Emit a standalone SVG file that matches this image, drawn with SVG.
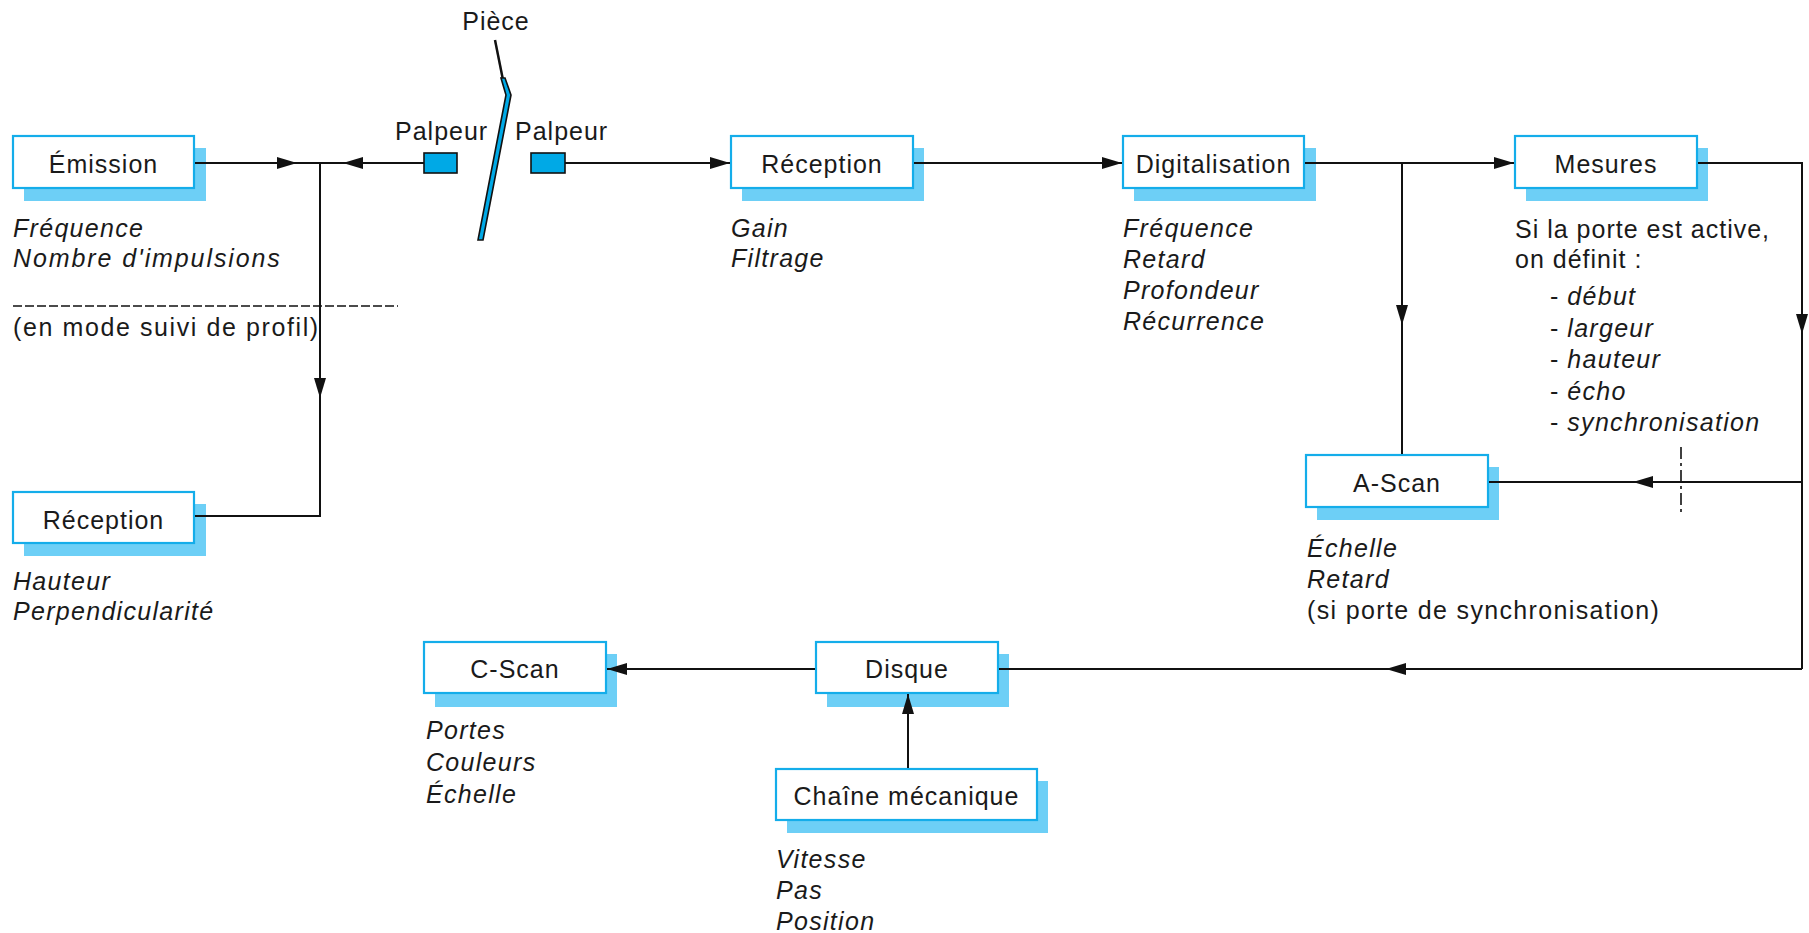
<svg xmlns="http://www.w3.org/2000/svg" width="1809" height="933" viewBox="0 0 1809 933">
<style>
  text { font-family: "Liberation Sans", Arial, sans-serif; font-size: 25px; fill: #1a1a1a; letter-spacing: 1px; }
  .it { font-style: italic; letter-spacing: 1.3px; }
  .lbl { text-anchor: middle; }
  .box { fill: #ffffff; stroke: #14ADEA; stroke-width: 2.2; }
  .sh { fill: #6DCFF6; }
  .ln { fill: none; stroke: #111; stroke-width: 2; }
  .arr { fill: none; stroke: #111; stroke-width: 2; marker-end: url(#ah); }
  .probe { fill: #00A9E6; stroke: #111; stroke-width: 1.6; }
</style>
<defs>
  <marker id="ah" markerUnits="userSpaceOnUse" markerWidth="22" markerHeight="14" refX="20" refY="7" orient="auto">
    <path d="M0,1 L20,7 L0,13 z" fill="#111"/>
  </marker>
</defs>
<rect width="1809" height="933" fill="#ffffff"/>

<g id="piece">
  <path d="M495,40 L503,80" fill="none" stroke="#111" stroke-width="2.5"/>
  <polygon class="probe" points="501,78 505,78 511,95 483,240 478,240 506,95"/>
  <text x="496" y="30" class="lbl">Pièce</text>
</g>

<g id="palpeur-gauche">
  <rect class="probe" x="424" y="153" width="33" height="20"/>
  <text x="395" y="140">Palpeur</text>
</g>

<g id="palpeur-droit">
  <rect class="probe" x="531" y="153" width="34" height="20"/>
  <text x="515" y="140">Palpeur</text>
</g>

<g id="emission">
  <rect class="sh" x="24" y="148" width="182" height="53"/>
  <rect class="box" x="13" y="136" width="181" height="52"/>
  <text x="103.5" y="173" class="lbl">Émission</text>
  <text x="13" y="237" class="it">Fréquence</text>
  <text x="13" y="267" class="it" style="letter-spacing:1.9px">Nombre d'impulsions</text>
</g>

<g id="profil-note">
  <text x="13" y="336" style="letter-spacing:1.6px">(en mode suivi de profil)</text>
</g>

<g id="reception-profil">
  <rect class="sh" x="24" y="504" width="182" height="52"/>
  <rect class="box" x="13" y="492" width="181" height="51"/>
  <text x="103.5" y="529" class="lbl">Réception</text>
  <text x="13" y="590" class="it">Hauteur</text>
  <text x="13" y="620" class="it">Perpendicularité</text>
</g>

<g id="reception">
  <rect class="sh" x="742" y="148" width="182" height="53"/>
  <rect class="box" x="731" y="136" width="182" height="52"/>
  <text x="822" y="173" class="lbl">Réception</text>
  <text x="731" y="237" class="it">Gain</text>
  <text x="731" y="267" class="it">Filtrage</text>
</g>

<g id="digitalisation">
  <rect class="sh" x="1134" y="148" width="182" height="53"/>
  <rect class="box" x="1123" y="136" width="181" height="52"/>
  <text x="1213.5" y="173" class="lbl">Digitalisation</text>
  <text x="1123" y="237" class="it">Fréquence</text>
  <text x="1123" y="268" class="it">Retard</text>
  <text x="1123" y="299" class="it">Profondeur</text>
  <text x="1123" y="330" class="it">Récurrence</text>
</g>

<g id="mesures">
  <rect class="sh" x="1526" y="148" width="182" height="53"/>
  <rect class="box" x="1515" y="136" width="182" height="52"/>
  <text x="1606" y="173" class="lbl">Mesures</text>
  <text x="1515" y="238">Si la porte est active,</text>
  <text x="1515" y="268">on définit :</text>
  <text x="1550" y="305">- <tspan class="it">début</tspan></text>
  <text x="1550" y="337">- <tspan class="it">largeur</tspan></text>
  <text x="1550" y="368">- <tspan class="it">hauteur</tspan></text>
  <text x="1550" y="400">- <tspan class="it">écho</tspan></text>
  <text x="1550" y="431">- <tspan class="it">synchronisation</tspan></text>
</g>

<g id="a-scan">
  <rect class="sh" x="1317" y="467" width="182" height="53"/>
  <rect class="box" x="1306" y="455" width="182" height="52"/>
  <text x="1397" y="492" class="lbl">A-Scan</text>
  <text x="1307" y="557" class="it">Échelle</text>
  <text x="1307" y="588" class="it">Retard</text>
  <text x="1307" y="619" style="letter-spacing:1.35px">(si porte de synchronisation)</text>
</g>

<g id="c-scan">
  <rect class="sh" x="435" y="654" width="182" height="53"/>
  <rect class="box" x="424" y="642" width="182" height="51"/>
  <text x="515" y="678" class="lbl">C-Scan</text>
  <text x="426" y="739" class="it">Portes</text>
  <text x="426" y="771" class="it">Couleurs</text>
  <text x="426" y="803" class="it">Échelle</text>
</g>

<g id="disque">
  <rect class="sh" x="827" y="654" width="182" height="53"/>
  <rect class="box" x="816" y="642" width="182" height="51"/>
  <text x="907" y="678" class="lbl">Disque</text>
</g>

<g id="chaine-mecanique">
  <rect class="sh" x="787" y="781" width="261" height="52"/>
  <rect class="box" x="776" y="769" width="261" height="51"/>
  <text x="906.5" y="805" class="lbl">Chaîne mécanique</text>
  <text x="776" y="868" class="it">Vitesse</text>
  <text x="776" y="899" class="it">Pas</text>
  <text x="776" y="930" class="it">Position</text>
</g>

<g id="connectors">
  <path class="arr" d="M195,163 H297"/>
  <path class="ln" d="M297,163 H320"/>
  <path class="arr" d="M424,163 H343"/>
  <path class="ln" d="M343,163 H320"/>
  <path class="arr" d="M320,163 V398"/>
  <path class="ln" d="M320,398 V516 H195"/>
  <path class="arr" d="M565,163 H730"/>
  <path class="arr" d="M914,163 H1122"/>
  <path class="arr" d="M1305,163 H1514"/>
  <path class="arr" d="M1402,163 V325"/>
  <path class="ln" d="M1402,325 V454"/>
  <path class="arr" d="M1698,163 H1802 V334"/>
  <path class="ln" d="M1802,334 V669"/>
  <path class="arr" d="M1802,482 H1633"/>
  <path class="ln" d="M1633,482 H1489"/>
  <path class="arr" d="M1802,669 H1386"/>
  <path class="ln" d="M1386,669 H999"/>
  <path class="arr" d="M815,669 H607"/>
  <path class="arr" d="M908,768 V694"/>
  <path d="M13,306 H398" fill="none" stroke="#111" stroke-width="1.6" stroke-dasharray="9 3"/>
  <path d="M1681,447 V513" fill="none" stroke="#111" stroke-width="1.6" stroke-dasharray="12 4 3 4"/>
</g>
</svg>
